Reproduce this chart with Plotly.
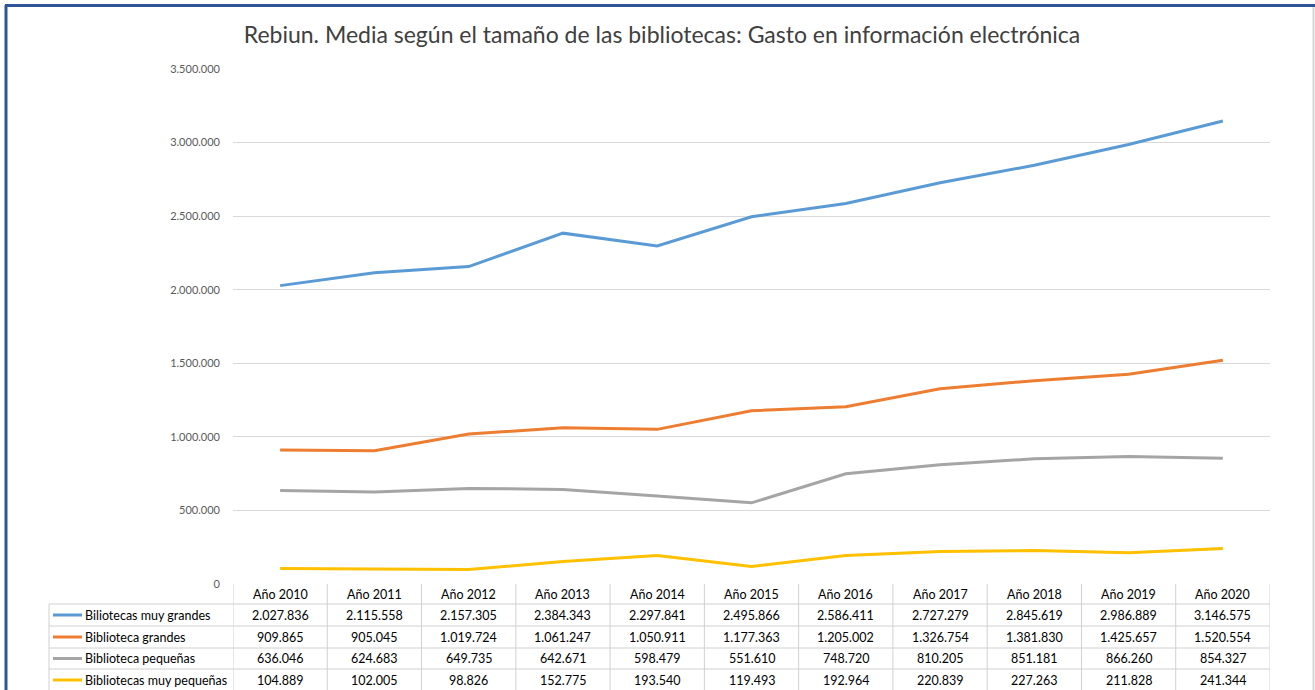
import plotly.graph_objects as go

# Data
years = ["Año 2010", "Año 2011", "Año 2012", "Año 2013", "Año 2014", "Año 2015",
         "Año 2016", "Año 2017", "Año 2018", "Año 2019", "Año 2020"]
muy_grandes = [2027836, 2115558, 2157305, 2384343, 2297841, 2495866,
               2586411, 2727279, 2845619, 2986889, 3146575]
grandes = [909865, 905045, 1019724, 1061247, 1050911, 1177363,
           1205002, 1326754, 1381830, 1425657, 1520554]
pequenas = [636046, 624683, 649735, 642671, 598479, 551610,
            748720, 810205, 851181, 866260, 854327]
muy_pequenas = [104889, 102005, 98826, 152775, 193540, 119493,
                192964, 220839, 227263, 211828, 241344]

series_names = ["Biliotecas muy grandes", "Biblioteca grandes",
                "Biblioteca pequeñas", "Bibliotecas muy pequeñas"]
series_values = [muy_grandes, grandes, pequenas, muy_pequenas]
series_colors = ["#5b9bd5", "#ed7d31", "#a5a5a5", "#ffc000"]

title = "Rebiun. Media según el tamaño de las bibliotecas: Gasto en información electrónica"

W, H = 1315, 690
L, R, T, B = 233, 1270, 69, 584  # plot area in pixels


def px_x(p):
    return (p - L) / (R - L)


def px_y(p):
    return (B - p) / (B - T)


def fmt(v):
    return f"{v:,}".replace(",", ".")


fig = go.Figure()
xs = list(range(len(years)))
for name, vals, col in zip(series_names, series_values, series_colors):
    fig.add_trace(go.Scatter(x=xs, y=vals, mode="lines", name=name,
                             line=dict(color=col, width=3)))

grid = "#d0d0d0"
shapes = []
annotations = []

# Table rows (pixel positions)
header_top, header_bot = 584, 604
row_lines = [604, 626, 648, 669, 691]
font_tbl = dict(family="Lato, Carlito, sans-serif", size=12.5, color="#000000")

# header cells
for i, y in enumerate(years):
    annotations.append(dict(x=i, xref="x", y=px_y((header_top + header_bot) / 2), yref="paper",
                            text=y, showarrow=False, font=font_tbl,
                            xanchor="center", yanchor="middle"))

# data rows
for r, (name, vals, col) in enumerate(zip(series_names, series_values, series_colors)):
    yc = (row_lines[r] + row_lines[r + 1]) / 2
    for i, v in enumerate(vals):
        annotations.append(dict(x=i, xref="x", y=px_y(yc), yref="paper",
                                text=fmt(v), showarrow=False, font=font_tbl,
                                xanchor="center", yanchor="middle"))
    annotations.append(dict(x=px_x(83), xref="paper", y=px_y(yc), yref="paper",
                            text=name, showarrow=False, font=font_tbl,
                            xanchor="left", yanchor="middle"))
    shapes.append(dict(type="line", xref="paper", yref="paper",
                       x0=px_x(53), x1=px_x(82), y0=px_y(yc), y1=px_y(yc),
                       line=dict(color=col, width=3)))

# horizontal table lines
for yl in row_lines[:-1]:
    shapes.append(dict(type="line", xref="paper", yref="paper",
                       x0=px_x(49), x1=1, y0=px_y(yl), y1=px_y(yl),
                       line=dict(color=grid, width=1)))
# vertical table lines
shapes.append(dict(type="line", xref="paper", yref="paper",
                   x0=px_x(49), x1=px_x(49), y0=px_y(604), y1=px_y(692),
                   line=dict(color=grid, width=1)))
for k in range(len(years) + 1):
    shapes.append(dict(type="line", xref="x", yref="paper",
                       x0=k - 0.5, x1=k - 0.5, y0=px_y(584), y1=px_y(692),
                       line=dict(color=grid, width=1)))

# chart frame
frame = "#2f5597"
shapes.append(dict(type="line", xref="paper", yref="paper",
                   x0=px_x(6), x1=px_x(6), y0=px_y(5), y1=px_y(692),
                   line=dict(color=frame, width=3)))
shapes.append(dict(type="line", xref="paper", yref="paper",
                   x0=px_x(5), x1=px_x(1315), y0=px_y(5.5), y1=px_y(5.5),
                   line=dict(color=frame, width=3)))
shapes.append(dict(type="line", xref="paper", yref="paper",
                   x0=px_x(1313.5), x1=px_x(1313.5), y0=px_y(7), y1=px_y(692),
                   line=dict(color="#d6d6d6", width=2)))

fig.update_layout(
    width=W, height=H,
    margin=dict(l=L, r=W - R, t=T, b=H - B, pad=0),
    paper_bgcolor="white", plot_bgcolor="white",
    separators=",.",
    showlegend=False,
    title=dict(text=title, x=662 / W, xref="container", xanchor="center",
               y=1 - 35 / H, yanchor="middle",
               font=dict(family="Lato, Carlito, sans-serif", size=23, color="#404040")),
    xaxis=dict(range=[-0.5, len(years) - 0.5], showticklabels=False, showgrid=False,
               zeroline=False, showline=False, ticks=""),
    yaxis=dict(range=[0, 3500000], dtick=500000, tickformat=",.0f",
               showgrid=True, gridcolor="#d9d9d9", gridwidth=1,
               zeroline=False, showline=False, ticks="", ticklabelstandoff=12,
               tickfont=dict(family="Lato, Carlito, sans-serif", size=11, color="#595959")),
    shapes=shapes,
    annotations=annotations,
)

# remove the browser's default page margin so the figure sits at the window's corner
fig.write_html("out.html", config={"displayModeBar": False},
               post_script="document.body.style.margin='0';")
